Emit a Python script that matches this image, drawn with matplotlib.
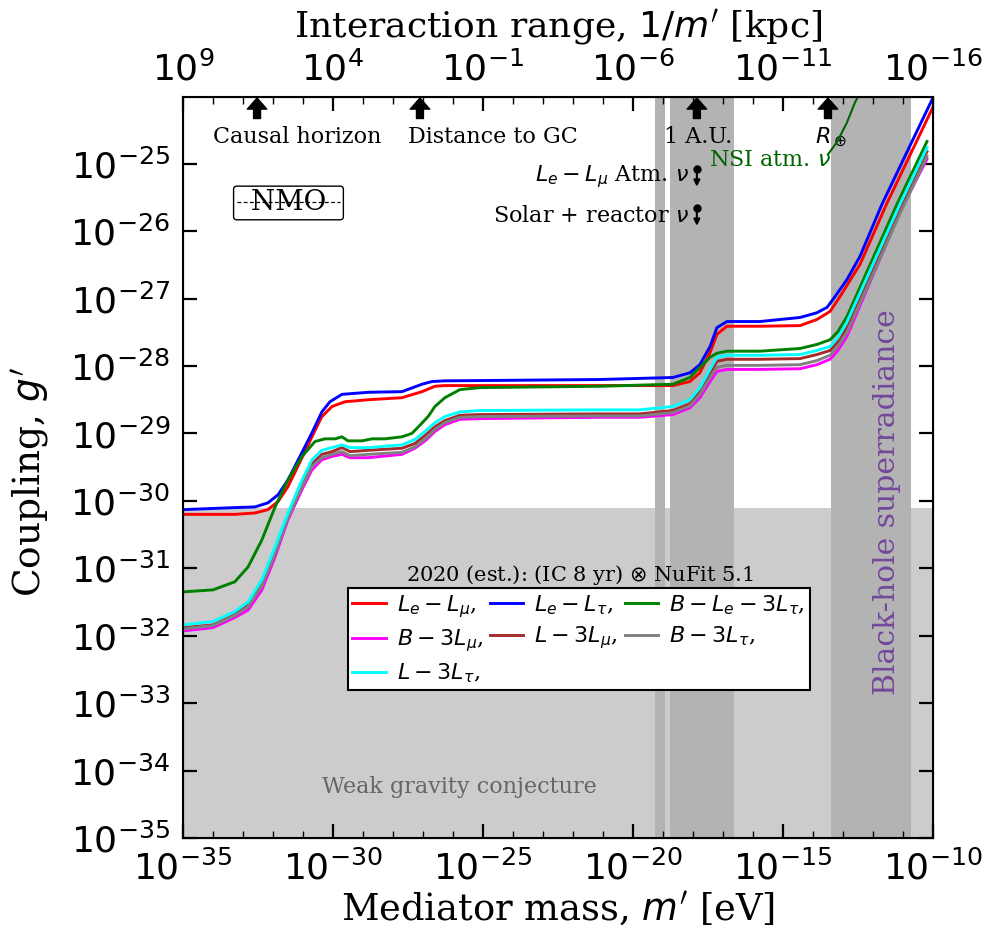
import numpy as np
import matplotlib
matplotlib.use("Agg")
import matplotlib.pyplot as plt
from matplotlib.ticker import FixedLocator, FuncFormatter, NullLocator, NullFormatter

plt.rcParams.update({
    "font.family": "serif",
    "font.serif": ["DejaVu Serif"],
    "mathtext.fontset": "dejavusans",
})

# ---- sensitivity curves: log10(m' / eV) and log10(g') ----
blue_logm = [-35.0, -33.27, -32.6, -32.17, -31.83, -31.5, -31.03, -30.7, -30.37, -30.1,
             -29.7, -28.83, -27.7, -27.03, -26.7, -26.27, -21.1, -18.67, -18.1, -17.77,
             -17.43, -17.2, -16.87, -15.77, -14.43, -13.87, -13.53, -13.33, -12.87, -12.43, -11.7, -10.0]
blue_logg = [-30.13, -30.10, -30.09, -30.03, -29.91, -29.69, -29.28, -28.99, -28.68, -28.53,
             -28.42, -28.39, -28.38, -28.27, -28.23, -28.22, -28.20, -28.17, -28.10, -27.98,
             -27.71, -27.43, -27.34, -27.34, -27.28, -27.21, -27.13, -27.01, -26.72, -26.37, -25.60, -24.02]

red_logm = [-35.0, -33.27, -32.6, -32.17, -31.83, -31.5, -31.03, -30.7, -30.37, -30.03,
            -29.6, -28.83, -27.7, -27.03, -26.6, -26.27, -21.1, -18.67, -18.1, -17.77,
            -17.43, -17.2, -16.87, -15.77, -14.43, -13.87, -13.43, -13.1, -12.43, -11.55, -10.0]
red_logg = [-30.20, -30.20, -30.18, -30.13, -30.01, -29.79, -29.36, -29.05, -28.75, -28.60,
            -28.53, -28.50, -28.47, -28.38, -28.30, -28.29, -28.29, -28.29, -28.23, -28.10,
            -27.80, -27.53, -27.41, -27.41, -27.40, -27.31, -27.19, -26.97, -26.49, -25.60, -24.16]

green_logm = [-35.0, -34.0, -33.27, -32.83, -32.37, -31.93, -31.5, -31.03, -30.6, -30.27,
              -29.93, -29.7, -29.5, -29.03, -28.7, -28.27, -27.7, -27.37, -27.17, -26.83,
              -26.6, -26.27, -25.77, -25.1, -21.1, -18.67, -18.1, -17.77, -17.43, -17.2,
              -16.87, -15.77, -14.43, -13.87, -13.43, -13.17, -12.87, -11.2, -10.2]
green_logg = [-31.35, -31.32, -31.20, -30.98, -30.58, -30.09, -29.69, -29.34, -29.12, -29.08,
              -29.08, -29.05, -29.11, -29.11, -29.08, -29.08, -29.05, -29.00, -28.91, -28.75,
              -28.60, -28.47, -28.35, -28.32, -28.30, -28.27, -28.17, -28.02, -27.87, -27.81,
              -27.78, -27.78, -27.74, -27.68, -27.61, -27.49, -27.27, -25.60, -24.67]

# the four lower curves share one mass grid
low_logm = [-35.0, -34.0, -33.27, -32.83, -32.37, -31.93, -31.5, -31.03, -30.7, -30.37,
            -30.03, -29.7, -29.43, -28.83, -27.7, -27.27, -26.93, -26.6, -26.27, -25.77,
            -25.1, -21.1, -19.77, -18.67, -18.1, -17.77, -17.43, -17.2, -16.87, -15.77,
            -14.43, -13.87, -13.43, -13.17, -12.87, -11.1, -10.2]
cyan_logg = [-31.84, -31.79, -31.64, -31.50, -31.17, -30.68, -30.18, -29.69, -29.39, -29.25,
             -29.21, -29.17, -29.21, -29.21, -29.17, -29.09, -28.97, -28.84, -28.75, -28.68,
             -28.66, -28.65, -28.65, -28.60, -28.50, -28.32, -28.05, -27.87, -27.84, -27.84,
             -27.83, -27.77, -27.71, -27.58, -27.35, -25.60, -24.76]
brown_logg = [-31.88, -31.84, -31.69, -31.54, -31.23, -30.74, -30.22, -29.74, -29.45, -29.31,
              -29.27, -29.21, -29.27, -29.25, -29.22, -29.15, -29.03, -28.90, -28.81, -28.73,
              -28.72, -28.71, -28.71, -28.66, -28.56, -28.38, -28.11, -27.93, -27.90, -27.90,
              -27.89, -27.83, -27.77, -27.64, -27.43, -25.68, -24.82]
gray_logg = [-31.90, -31.85, -31.70, -31.57, -31.26, -30.78, -30.25, -29.79, -29.49, -29.36,
             -29.31, -29.27, -29.33, -29.31, -29.28, -29.20, -29.08, -28.94, -28.84, -28.76,
             -28.75, -28.74, -28.74, -28.69, -28.59, -28.42, -28.17, -28.02, -27.99, -27.99,
             -27.98, -27.92, -27.84, -27.71, -27.50, -25.74, -24.89]
magenta_logg = [-31.93, -31.88, -31.73, -31.62, -31.32, -30.83, -30.28, -29.83, -29.54, -29.39,
                -29.34, -29.31, -29.36, -29.36, -29.31, -29.22, -29.11, -28.97, -28.87, -28.79,
                -28.78, -28.76, -28.76, -28.72, -28.62, -28.47, -28.23, -28.08, -28.05, -28.05,
                -28.04, -27.98, -27.90, -27.77, -27.56, -25.71, -24.93]

# NSI atmospheric-neutrino bound
nsi_logm = [-13.5, -13.2, -12.87, -12.6, -12.37]
nsi_logg = [-24.86, -24.68, -24.39, -24.09, -23.90]

# upper-limit points
ul_logm = [-17.87, -17.87]
ul_logg = [-25.08, -25.66]
ul_labels = [r"$L_e - L_\mu$ Atm. $\nu$", r"Solar + reactor $\nu$"]

# excluded / disfavoured regions
wgc_logg = -30.10
dark_bands = [(-19.27, -18.93), (-18.77, -16.63), (-13.40, -10.73)]

# distance scales marked on the top
scale_logm = [-32.53, -27.10, -17.87, -13.50]

fig = plt.figure(figsize=(9.9, 9.32), dpi=100)
ax = fig.add_axes([0.1848, 0.1009, 0.7576, 0.7950])
ax.set_xscale("log")
ax.set_yscale("log")
ax.set_xlim(1e-35, 1e-10)
ax.set_ylim(1e-35, 10 ** -24.01)

ax.axhspan(1e-35, 10 ** wgc_logg, color="#cccccc", lw=0, zorder=0)
for lo, hi in dark_bands:
    ax.axvspan(10 ** lo, 10 ** hi, color="#b3b3b3", lw=0, zorder=1)

lw = 2.1
curves = {}
curves["LeLmu"], = ax.plot(10 ** np.array(red_logm), 10 ** np.array(red_logg), color="red", lw=lw, zorder=4,
                           label=r"$L_e - L_\mu$,")
curves["LeLtau"], = ax.plot(10 ** np.array(blue_logm), 10 ** np.array(blue_logg), color="blue", lw=lw, zorder=4,
                            label=r"$L_e - L_\tau$,")
curves["BLe3Ltau"], = ax.plot(10 ** np.array(green_logm), 10 ** np.array(green_logg), color="green", lw=lw,
                              zorder=4, label=r"$B - L_e - 3L_\tau$,")
lm = 10 ** np.array(low_logm)
curves["B3Lmu"], = ax.plot(lm, 10 ** np.array(magenta_logg), color="magenta", lw=lw, zorder=4,
                           label=r"$B - 3L_\mu$,")
curves["L3Lmu"], = ax.plot(lm, 10 ** np.array(brown_logg), color="brown", lw=lw, zorder=4,
                           label=r"$L - 3L_\mu$,")
curves["B3Ltau"], = ax.plot(lm, 10 ** np.array(gray_logg), color="gray", lw=lw, zorder=4,
                            label=r"$B - 3L_\tau$,")
curves["L3Ltau"], = ax.plot(lm, 10 ** np.array(cyan_logg), color="cyan", lw=lw, zorder=4,
                            label=r"$L - 3L_\tau$,")

ax.plot(10 ** np.array(nsi_logm), 10 ** np.array(nsi_logg), color="darkgreen", lw=1.5, zorder=4)
ax.text(0.7013, 0.915, r"NSI atm. $\nu$", transform=ax.transAxes, color="darkgreen",
        fontsize=16, ha="left", va="center")

# upper-limit markers
for lm_, lg_, lab in zip(ul_logm, ul_logg, ul_labels):
    m_, g_ = 10 ** lm_, 10 ** lg_
    ax.plot([m_], [g_], "o", color="k", ms=5, zorder=6)
    ax.annotate("", xy=(m_, g_ * 10 ** -0.26), xytext=(m_, g_),
                arrowprops=dict(arrowstyle="-|>", color="k", lw=1.5, mutation_scale=9,
                                shrinkA=0, shrinkB=0), zorder=6)
    ax.text(0.6747, (lg_ + 35) / 10.99 - 0.01, lab, transform=ax.transAxes, fontsize=16,
            ha="right", va="center")

# arrows for distance scales along the top
for lm_ in scale_logm:
    ax.annotate("", xy=(10 ** lm_, 0.9987), xycoords=("data", "axes fraction"),
                xytext=(10 ** lm_, 0.971), textcoords=("data", "axes fraction"),
                arrowprops=dict(facecolor="black", edgecolor="black", width=5,
                                headwidth=14, headlength=8, shrink=0), zorder=6)
ax.text(0.040, 0.946, "Causal horizon", transform=ax.transAxes, fontsize=16, ha="left", va="center")
ax.text(0.300, 0.946, "Distance to GC", transform=ax.transAxes, fontsize=16, ha="left", va="center")
ax.text(0.687, 0.946, "1 A.U.", transform=ax.transAxes, fontsize=16, ha="center", va="center")
ax.text(0.843, 0.946, r"$R_\oplus$", transform=ax.transAxes, fontsize=16, ha="left", va="center")

# NMO badge, struck through
ax.text(0.1407, 0.857, "\u2002NMO\u2002", transform=ax.transAxes, fontsize=20, ha="center",
        va="center", bbox=dict(boxstyle="round,pad=0.12", fc="white", ec="black", lw=1.0), zorder=6)
ax.plot([0.072, 0.209], [0.858, 0.858], transform=ax.transAxes, color="k", lw=0.9,
        ls=(0, (3, 2)), zorder=7)

ax.text(0.369, 0.0688, "Weak gravity conjecture", transform=ax.transAxes, fontsize=16,
        color="#666666", ha="center", va="center", zorder=3)
ax.text(0.9387, 0.453, "Black-hole superradiance", transform=ax.transAxes, fontsize=21.5,
        color="#74479a", ha="center", va="center", rotation=90, zorder=3)

# legend
order = ["LeLmu", "B3Lmu", "L3Ltau", "LeLtau", "L3Lmu", "BLe3Ltau", "B3Ltau"]
leg = ax.legend([curves[k] for k in order], [curves[k].get_label() for k in order],
                loc="upper left", bbox_to_anchor=(0.22, 0.337), ncol=3, fontsize=16,
                frameon=True, fancybox=False, edgecolor="black", framealpha=1,
                handlelength=1.5, handletextpad=0.5, columnspacing=0.3, borderpad=0.2,
                labelspacing=0.35, borderaxespad=0)
leg.get_frame().set_linewidth(1.5)
leg.set_zorder(8)
ax.text(0.529, 0.355, r"2020 (est.): (IC 8 yr) $\otimes$ NuFit 5.1", transform=ax.transAxes,
        fontsize=15, ha="center", va="center", zorder=8)

# axes and ticks
pow_fmt = FuncFormatter(lambda v, p: r"$10^{%d}$" % int(round(np.log10(v))))
xmaj = [1e-35, 1e-30, 1e-25, 1e-20, 1e-15, 1e-10]
ax.xaxis.set_major_locator(FixedLocator(xmaj))
ax.xaxis.set_minor_locator(FixedLocator([10.0 ** k for k in range(-35, -9)]))
ax.xaxis.set_major_formatter(pow_fmt)
ax.xaxis.set_minor_formatter(NullFormatter())
ax.yaxis.set_major_locator(FixedLocator([10.0 ** k for k in range(-35, -23)]))
ax.yaxis.set_minor_locator(NullLocator())
ax.yaxis.set_major_formatter(pow_fmt)
ax.tick_params(which="major", direction="in", length=10, width=1.6, labelsize=26,
               top=False, right=True, pad=9)
ax.tick_params(which="minor", direction="in", length=5, width=1.0, top=False, right=True)
for s in ax.spines.values():
    s.set_linewidth(1.5)
ax.set_xlabel(r"Mediator mass, $m'$ [eV]", fontsize=26.5, labelpad=2)
ax.set_ylabel(r"Coupling, $g'$", fontsize=27)
ax.yaxis.set_label_coords(-0.176, 0.48)

ax2 = ax.twiny()
ax2.set_xscale("log")
ax2.set_xlim(1e9, 1e-16)
ax2.xaxis.set_major_locator(FixedLocator([1e9, 1e4, 1e-1, 1e-6, 1e-11, 1e-16]))
ax2.xaxis.set_minor_locator(FixedLocator([10.0 ** k for k in range(-16, 10)]))
ax2.xaxis.set_major_formatter(pow_fmt)
ax2.xaxis.set_minor_formatter(NullFormatter())
ax2.tick_params(which="major", direction="in", length=10, width=1.6, labelsize=26, pad=7)
ax2.tick_params(which="minor", direction="in", length=5, width=1.0)
ax2.set_xlabel(r"Interaction range, $1/m'$ [kpc]", fontsize=26, labelpad=10)

fig.savefig("out.png", dpi=100)
